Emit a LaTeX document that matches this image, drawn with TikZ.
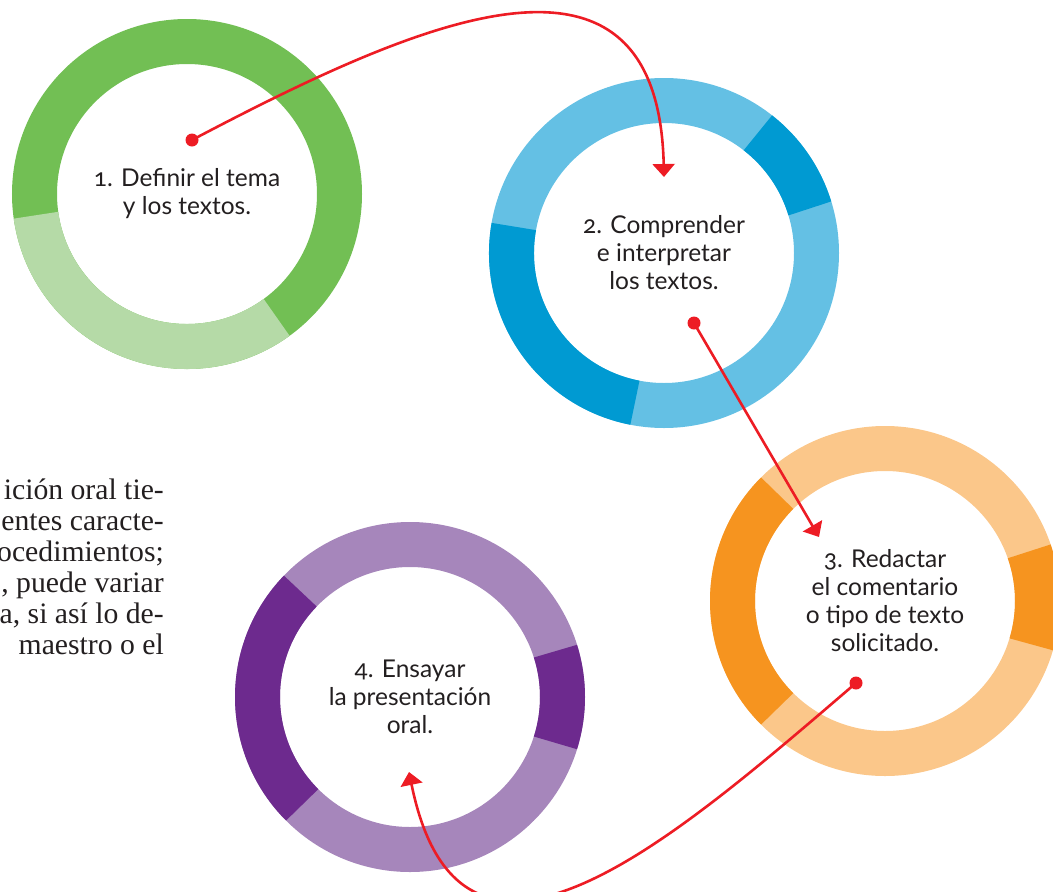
\documentclass[tikz,border=0pt]{standalone}
\usepackage{fontspec}
\setmainfont{Liberation Serif}
\newfontfamily\labelfont{Lato}[Numbers=OldStyle]
\usepackage{tikz}
\usetikzlibrary{arrows.meta}
\definecolor{greendark}{RGB}{114,191,84}
\definecolor{greenlight}{RGB}{181,218,167}
\definecolor{bluedark}{RGB}{0,154,210}
\definecolor{bluelight}{RGB}{100,192,228}
\definecolor{orangedark}{RGB}{246,148,31}
\definecolor{orangelight}{RGB}{251,199,138}
\definecolor{purpledark}{RGB}{109,42,142}
\definecolor{purplelight}{RGB}{166,134,187}
\definecolor{arrowred}{RGB}{237,28,36}
\definecolor{textgray}{RGB}{35,31,32}

\begin{document}
\begin{tikzpicture}[x=1pt,y=-1pt,
  ringtext/.style={align=center,text=textgray,font=\labelfont\fontsize{24.5}{28}\selectfont},
  ringband/.style={line width=45pt},
  redline/.style={draw=arrowred,line width=2.6pt,-{Triangle[width=22pt,length=13pt]}},
  reddot/.style={circle,fill=arrowred,inner sep=0pt,minimum size=13pt}]
\useasboundingbox (0,0) rectangle (1053,892);

% text of the page, cut at the left edge
\foreach \t [count=\i] in {{ición oral tie-},{entes caracte-},{ocedimientos;},{, puede variar},{a, si así lo de-},{maestro o el}}
  \node[anchor=base east,inner sep=0pt,text=textgray,font=\fontsize{29.7}{31}\selectfont] at (164,{499+31*(\i-1)}) {\t};

% the four steps
\node[ringtext] (s1) at (187,194) {1. Definir el tema\\y los textos.};
\node[ringtext] (s2) at (664,253) {2. Comprender\\e interpretar\\los textos.};
\node[ringtext] (s3) at (885,601) {3. Redactar\\el comentario\\o tipo de texto\\solicitado.};
\node[ringtext] (s4) at (410,697) {4. Ensayar\\la presentación\\oral.};

% rings
\draw[ringband,greendark] (s1) circle[radius=152.5];
\draw[ringband,greenlight] (s1) ++(-188:152.5) arc[start angle=-188,end angle=-306,radius=152.5];
\draw[ringband,bluelight] (s2) circle[radius=152.5];
\foreach \a/\b in {17/52,170/259}
  \draw[ringband,bluedark] (s2) ++(-\a:152.5) arc[start angle=-\a,end angle=-\b,radius=152.5];
\draw[ringband,orangelight] (s3) circle[radius=152.5];
\foreach \a/\b in {-16.5/19,135/225}
  \draw[ringband,orangedark] (s3) ++(-\a:152.5) arc[start angle=-\a,end angle=-\b,radius=152.5];
\draw[ringband,purplelight] (s4) circle[radius=152.5];
\foreach \a/\b in {-17.5/17.5,136/225}
  \draw[ringband,purpledark] (s4) ++(-\a:152.5) arc[start angle=-\a,end angle=-\b,radius=152.5];

% arrows
\coordinate (t2) at (664,177);
\coordinate (t3) at (819,537);
\coordinate (t4) at (409,772);
\draw[redline] (192,140) coordinate (d1) .. controls (420,20) and (658,-85) .. (t2);
\draw[redline] (694,323) coordinate (d2) -- (t3);
\draw[redline] (856,683) coordinate (d3) .. controls (674,839) and (461,1027) .. (t4);
\foreach \d in {d1,d2,d3}
  \node[reddot] at (\d) {};
\end{tikzpicture}
\end{document}
